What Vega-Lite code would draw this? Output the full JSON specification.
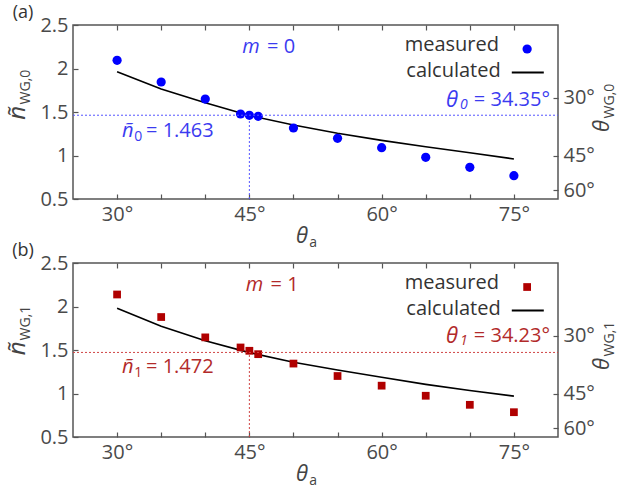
{
"$schema": "https://vega.github.io/schema/vega-lite/v6.json",
"padding": {"left": 5, "top": 3, "right": 0, "bottom": 0},
"spacing": 64,
"bounds": "flush",
"config": {"view": {"stroke": "#555", "strokeWidth": 1.5}, "font": "Open Sans", "axis": {"grid": false}},
"datasets": {
 "meas0": [{"theta":30,"n":2.094},{"theta":35,"n":1.845},{"theta":40,"n":1.649},{"theta":44,"n":1.477},{"theta":45,"n":1.462},{"theta":46,"n":1.450},{"theta":50,"n":1.316},{"theta":55,"n":1.197},{"theta":60,"n":1.090},{"theta":65,"n":0.979},{"theta":70,"n":0.864},{"theta":75,"n":0.768}],
 "calc0": [{"theta":30,"n":1.963},{"theta":35,"n":1.764},{"theta":40,"n":1.607},{"theta":45,"n":1.46},{"theta":50,"n":1.35},{"theta":55,"n":1.255},{"theta":60,"n":1.174},{"theta":65,"n":1.101},{"theta":70,"n":1.032},{"theta":75,"n":0.96}],
 "meas1": [{"theta":30,"n":2.138},{"theta":35,"n":1.879},{"theta":40,"n":1.645},{"theta":44,"n":1.529},{"theta":45,"n":1.491},{"theta":46,"n":1.452},{"theta":50,"n":1.344},{"theta":55,"n":1.201},{"theta":60,"n":1.09},{"theta":65,"n":0.974},{"theta":70,"n":0.87},{"theta":75,"n":0.785}],
 "calc1": [{"theta":30,"n":1.98},{"theta":35,"n":1.772},{"theta":40,"n":1.606},{"theta":45,"n":1.47},{"theta":50,"n":1.36},{"theta":55,"n":1.271},{"theta":60,"n":1.186},{"theta":65,"n":1.105},{"theta":70,"n":1.035},{"theta":75,"n":0.97}],
 "h0": [{"theta":25,"theta2":80,"n":1.463}],
 "v0": [{"theta":45,"n":0.5,"n2":1.463}],
 "h1": [{"theta":25,"theta2":80,"n":1.472}],
 "v1": [{"theta":45,"n":0.5,"n2":1.472}]
},
"vconcat": [
 {
  "width": 485, "height": 174,
  "layer": [
   {"layer": [
    {"data": {"name": "v0"}, "mark": {"type": "rule", "color": "#5555ff", "strokeDash": [2,2], "strokeWidth": 1},
     "encoding": {
      "x": {"field": "theta", "type": "quantitative", "scale": {"domain": [25,80], "nice": false, "zero": false},
            "axis": {"orient": "bottom", "values": [30,35,40,45,50,55,60,65,70,75], "labelExpr": "datum.value % 15 == 0 ? datum.value + '°' : ''", "tickSize": -5, "tickColor": "#555", "tickWidth": 1.2, "domain": false, "title": null, "labelFontSize": 20, "labelColor": "#4a4a4a", "labelFont": "Open Sans", "labelPadding": 10, "labelFlush": false, "labelOverlap": false}},
      "y": {"field": "n", "type": "quantitative", "scale": {"domain": [0.5,2.5], "nice": false, "zero": false},
            "axis": {"orient": "left", "values": [0.5,1,1.5,2,2.5], "format": "~g", "tickSize": -5, "tickColor": "#555", "tickWidth": 1.2, "domain": false, "title": null, "labelFontSize": 20, "labelColor": "#4a4a4a", "labelFont": "Open Sans", "labelPadding": 10, "labelFlush": false, "labelOverlap": false}},
      "y2": {"field": "n2"}}},
    {"data": {"name": "calc0"}, "mark": {"type": "line", "color": "#000", "strokeWidth": 1.6},
     "encoding": {"x": {"field": "theta", "type": "quantitative", "scale": {"domain": [25,80], "nice": false, "zero": false}},
                  "y": {"field": "n", "type": "quantitative", "scale": {"domain": [0.5,2.5], "nice": false, "zero": false}}}},
    {"data": {"name": "meas0"}, "mark": {"type": "point", "shape": "circle", "filled": true, "color": "#0000ff", "size": 85, "opacity": 1},
     "encoding": {"x": {"field": "theta", "type": "quantitative", "scale": {"domain": [25,80], "nice": false, "zero": false}},
                  "y": {"field": "n", "type": "quantitative", "scale": {"domain": [0.5,2.5], "nice": false, "zero": false}}}},
    {"data": {"values": [{}]}, "mark": {"type": "point", "shape": "circle", "filled": true, "color": "#0000ff", "size": 85, "opacity": 1},
     "encoding": {"x": {"datum": 76.5, "type": "quantitative", "scale": {"domain": [25,80], "nice": false, "zero": false}},
                  "y": {"datum": 2.224, "type": "quantitative", "scale": {"domain": [0.5,2.5], "nice": false, "zero": false}}}},
    {"data": {"values": [{}]}, "mark": {"type": "rule", "color": "#000", "strokeWidth": 2},
     "encoding": {"x": {"datum": 74.76, "type": "quantitative", "scale": {"domain": [25,80], "nice": false, "zero": false}}, "x2": {"datum": 78.39},
                  "y": {"datum": 1.954, "type": "quantitative", "scale": {"domain": [0.5,2.5], "nice": false, "zero": false}}}},
    {"data": {"values": [{}]}, "mark": {"type": "text", "text": "measured", "fontSize": 20, "align": "right", "baseline": "middle", "color": "#333"},
     "encoding": {"x": {"datum": 73.31, "type": "quantitative", "scale": {"domain": [25,80], "nice": false, "zero": false}},
                  "y": {"datum": 2.27, "type": "quantitative", "scale": {"domain": [0.5,2.5], "nice": false, "zero": false}}}},
    {"data": {"values": [{}]}, "mark": {"type": "text", "text": "calculated", "fontSize": 20, "align": "right", "baseline": "middle", "color": "#333"},
     "encoding": {"x": {"datum": 73.5, "type": "quantitative", "scale": {"domain": [25,80], "nice": false, "zero": false}},
                  "y": {"datum": 1.977, "type": "quantitative", "scale": {"domain": [0.5,2.5], "nice": false, "zero": false}}}},
    {"data": {"values": [{}]}, "mark": {"type": "text", "text": "m", "fontSize": 20, "fontStyle": "italic", "align": "left", "baseline": "middle", "color": "#3b3bf0"},
     "encoding": {"x": {"datum": 44.2, "type": "quantitative", "scale": {"domain": [25,80], "nice": false, "zero": false}},
                  "y": {"datum": 2.25, "type": "quantitative", "scale": {"domain": [0.5,2.5], "nice": false, "zero": false}}}},
    {"data": {"values": [{}]}, "mark": {"type": "text", "text": "= 0", "fontSize": 20, "align": "left", "baseline": "middle", "color": "#3b3bf0"},
     "encoding": {"x": {"datum": 47.0, "type": "quantitative", "scale": {"domain": [25,80], "nice": false, "zero": false}},
                  "y": {"datum": 2.25, "type": "quantitative", "scale": {"domain": [0.5,2.5], "nice": false, "zero": false}}}},
    {"data": {"values": [{}]}, "mark": {"type": "text", "text": "ñ", "fontSize": 20, "fontStyle": "italic", "align": "left", "baseline": "middle", "color": "#3b3bf0"},
     "encoding": {"x": {"datum": 30.56, "type": "quantitative", "scale": {"domain": [25,80], "nice": false, "zero": false}},
                  "y": {"datum": 1.287, "type": "quantitative", "scale": {"domain": [0.5,2.5], "nice": false, "zero": false}}}},
    {"data": {"values": [{}]}, "mark": {"type": "text", "text": "0", "fontSize": 14, "align": "left", "baseline": "middle", "color": "#3b3bf0"},
     "encoding": {"x": {"datum": 31.95, "type": "quantitative", "scale": {"domain": [25,80], "nice": false, "zero": false}},
                  "y": {"datum": 1.213, "type": "quantitative", "scale": {"domain": [0.5,2.5], "nice": false, "zero": false}}}},
    {"data": {"values": [{}]}, "mark": {"type": "text", "text": "= 1.463", "fontSize": 20, "align": "left", "baseline": "middle", "color": "#3b3bf0"},
     "encoding": {"x": {"datum": 33.28, "type": "quantitative", "scale": {"domain": [25,80], "nice": false, "zero": false}},
                  "y": {"datum": 1.287, "type": "quantitative", "scale": {"domain": [0.5,2.5], "nice": false, "zero": false}}}},
    {"data": {"values": [{}]}, "mark": {"type": "text", "text": "θ", "fontSize": 22, "fontStyle": "italic", "align": "left", "baseline": "middle", "color": "#3b3bf0"},
     "encoding": {"x": {"datum": 67.3, "type": "quantitative", "scale": {"domain": [25,80], "nice": false, "zero": false}},
                  "y": {"datum": 1.638, "type": "quantitative", "scale": {"domain": [0.5,2.5], "nice": false, "zero": false}}}},
    {"data": {"values": [{}]}, "mark": {"type": "text", "text": "0", "fontSize": 14, "fontStyle": "italic", "align": "left", "baseline": "middle", "color": "#3b3bf0"},
     "encoding": {"x": {"datum": 68.9, "type": "quantitative", "scale": {"domain": [25,80], "nice": false, "zero": false}},
                  "y": {"datum": 1.58, "type": "quantitative", "scale": {"domain": [0.5,2.5], "nice": false, "zero": false}}}},
    {"data": {"values": [{}]}, "mark": {"type": "text", "text": "= 34.35°", "fontSize": 20, "align": "right", "baseline": "middle", "color": "#3b3bf0"},
     "encoding": {"x": {"datum": 79.1, "type": "quantitative", "scale": {"domain": [25,80], "nice": false, "zero": false}},
                  "y": {"datum": 1.638, "type": "quantitative", "scale": {"domain": [0.5,2.5], "nice": false, "zero": false}}}},
    {"data": {"values": [{}]}, "mark": {"type": "text", "text": "(a)", "fontSize": 18, "align": "center", "baseline": "middle", "color": "#333"},
     "encoding": {"x": {"datum": 19.33, "type": "quantitative", "scale": {"domain": [25,80], "nice": false, "zero": false}},
                  "y": {"datum": 2.638, "type": "quantitative", "scale": {"domain": [0.5,2.5], "nice": false, "zero": false}}}},
    {"data": {"values": [{}]}, "mark": {"type": "text", "text": "ñ", "fontSize": 24, "fontStyle": "italic", "angle": 270, "align": "center", "baseline": "middle", "color": "#444"},
     "encoding": {"x": {"datum": 18.76, "type": "quantitative", "scale": {"domain": [25,80], "nice": false, "zero": false}},
                  "y": {"datum": 1.49, "type": "quantitative", "scale": {"domain": [0.5,2.5], "nice": false, "zero": false}}}},
    {"data": {"values": [{}]}, "mark": {"type": "text", "text": "WG,0", "fontSize": 14, "angle": 270, "align": "center", "baseline": "middle", "color": "#444"},
     "encoding": {"x": {"datum": 19.67, "type": "quantitative", "scale": {"domain": [25,80], "nice": false, "zero": false}},
                  "y": {"datum": 1.787, "type": "quantitative", "scale": {"domain": [0.5,2.5], "nice": false, "zero": false}}}},
    {"data": {"values": [{}]}, "mark": {"type": "text", "text": "θ", "fontSize": 22, "fontStyle": "italic", "align": "center", "baseline": "middle", "color": "#444"},
     "encoding": {"x": {"datum": 50.97, "type": "quantitative", "scale": {"domain": [25,80], "nice": false, "zero": false}},
                  "y": {"datum": 0.07, "type": "quantitative", "scale": {"domain": [0.5,2.5], "nice": false, "zero": false}}}},
    {"data": {"values": [{}]}, "mark": {"type": "text", "text": "a", "fontSize": 14, "align": "center", "baseline": "middle", "color": "#444"},
     "encoding": {"x": {"datum": 52.22, "type": "quantitative", "scale": {"domain": [25,80], "nice": false, "zero": false}},
                  "y": {"datum": 0.0, "type": "quantitative", "scale": {"domain": [0.5,2.5], "nice": false, "zero": false}}}},
    {"data": {"values": [{}]}, "mark": {"type": "text", "text": "θ", "fontSize": 22, "fontStyle": "italic", "angle": 270, "align": "center", "baseline": "middle", "color": "#444"},
     "encoding": {"x": {"datum": 84.99, "type": "quantitative", "scale": {"domain": [25,80], "nice": false, "zero": false}},
                  "y": {"datum": 1.339, "type": "quantitative", "scale": {"domain": [0.5,2.5], "nice": false, "zero": false}}}},
    {"data": {"values": [{}]}, "mark": {"type": "text", "text": "WG,0", "fontSize": 14, "angle": 270, "align": "center", "baseline": "middle", "color": "#444"},
     "encoding": {"x": {"datum": 85.9, "type": "quantitative", "scale": {"domain": [25,80], "nice": false, "zero": false}},
                  "y": {"datum": 1.626, "type": "quantitative", "scale": {"domain": [0.5,2.5], "nice": false, "zero": false}}}}
   ]},
   {"data": {"name": "h0"}, "mark": {"type": "rule", "color": "#5555ff", "strokeDash": [2,2], "strokeWidth": 1},
    "encoding": {
     "x": {"field": "theta", "type": "quantitative", "scale": {"domain": [25,80], "nice": false, "zero": false},
           "axis": {"orient": "top", "values": [30,35,40,45,50,55,60,65,70,75], "labels": false, "tickSize": -5, "tickColor": "#555", "tickWidth": 1.2, "domain": false, "title": null}},
     "x2": {"field": "theta2"},
     "y": {"field": "n", "type": "quantitative", "scale": {"domain": [0.5,2.5], "nice": false, "zero": false},
           "axis": {"orient": "right", "values": [1.664,1.0,0.6], "labelExpr": "datum.value > 1.5 ? '30°' : (datum.value > 0.8 ? '45°' : '60°')", "tickSize": -5, "tickColor": "#555", "tickWidth": 1.2, "domain": false, "title": null, "labelFontSize": 20, "labelColor": "#4a4a4a", "labelFont": "Open Sans", "labelPadding": 10, "labelFlush": false, "labelOverlap": false}}}}
  ],
  "resolve": {"scale": {"x": "independent", "y": "independent"}}
 },
 {
  "width": 485, "height": 174,
  "layer": [
   {"layer": [
    {"data": {"name": "v1"}, "mark": {"type": "rule", "color": "#d04545", "strokeDash": [2,2], "strokeWidth": 1},
     "encoding": {
      "x": {"field": "theta", "type": "quantitative", "scale": {"domain": [25,80], "nice": false, "zero": false},
            "axis": {"orient": "bottom", "values": [30,35,40,45,50,55,60,65,70,75], "labelExpr": "datum.value % 15 == 0 ? datum.value + '°' : ''", "tickSize": -5, "tickColor": "#555", "tickWidth": 1.2, "domain": false, "title": null, "labelFontSize": 20, "labelColor": "#4a4a4a", "labelFont": "Open Sans", "labelPadding": 10, "labelFlush": false, "labelOverlap": false}},
      "y": {"field": "n", "type": "quantitative", "scale": {"domain": [0.5,2.5], "nice": false, "zero": false},
            "axis": {"orient": "left", "values": [0.5,1,1.5,2,2.5], "format": "~g", "tickSize": -5, "tickColor": "#555", "tickWidth": 1.2, "domain": false, "title": null, "labelFontSize": 20, "labelColor": "#4a4a4a", "labelFont": "Open Sans", "labelPadding": 10, "labelFlush": false, "labelOverlap": false}},
      "y2": {"field": "n2"}}},
    {"data": {"name": "calc1"}, "mark": {"type": "line", "color": "#000", "strokeWidth": 1.6},
     "encoding": {"x": {"field": "theta", "type": "quantitative", "scale": {"domain": [25,80], "nice": false, "zero": false}},
                  "y": {"field": "n", "type": "quantitative", "scale": {"domain": [0.5,2.5], "nice": false, "zero": false}}}},
    {"data": {"name": "meas1"}, "mark": {"type": "square", "filled": true, "color": "#b00000", "size": 60, "opacity": 1},
     "encoding": {"x": {"field": "theta", "type": "quantitative", "scale": {"domain": [25,80], "nice": false, "zero": false}},
                  "y": {"field": "n", "type": "quantitative", "scale": {"domain": [0.5,2.5], "nice": false, "zero": false}}}},
    {"data": {"values": [{}]}, "mark": {"type": "square", "filled": true, "color": "#b00000", "size": 60, "opacity": 1},
     "encoding": {"x": {"datum": 76.5, "type": "quantitative", "scale": {"domain": [25,80], "nice": false, "zero": false}},
                  "y": {"datum": 2.224, "type": "quantitative", "scale": {"domain": [0.5,2.5], "nice": false, "zero": false}}}},
    {"data": {"values": [{}]}, "mark": {"type": "rule", "color": "#000", "strokeWidth": 2},
     "encoding": {"x": {"datum": 74.76, "type": "quantitative", "scale": {"domain": [25,80], "nice": false, "zero": false}}, "x2": {"datum": 78.39},
                  "y": {"datum": 1.954, "type": "quantitative", "scale": {"domain": [0.5,2.5], "nice": false, "zero": false}}}},
    {"data": {"values": [{}]}, "mark": {"type": "text", "text": "measured", "fontSize": 20, "align": "right", "baseline": "middle", "color": "#333"},
     "encoding": {"x": {"datum": 73.31, "type": "quantitative", "scale": {"domain": [25,80], "nice": false, "zero": false}},
                  "y": {"datum": 2.27, "type": "quantitative", "scale": {"domain": [0.5,2.5], "nice": false, "zero": false}}}},
    {"data": {"values": [{}]}, "mark": {"type": "text", "text": "calculated", "fontSize": 20, "align": "right", "baseline": "middle", "color": "#333"},
     "encoding": {"x": {"datum": 73.5, "type": "quantitative", "scale": {"domain": [25,80], "nice": false, "zero": false}},
                  "y": {"datum": 1.977, "type": "quantitative", "scale": {"domain": [0.5,2.5], "nice": false, "zero": false}}}},
    {"data": {"values": [{}]}, "mark": {"type": "text", "text": "m", "fontSize": 20, "fontStyle": "italic", "align": "left", "baseline": "middle", "color": "#b22a2a"},
     "encoding": {"x": {"datum": 44.6, "type": "quantitative", "scale": {"domain": [25,80], "nice": false, "zero": false}},
                  "y": {"datum": 2.25, "type": "quantitative", "scale": {"domain": [0.5,2.5], "nice": false, "zero": false}}}},
    {"data": {"values": [{}]}, "mark": {"type": "text", "text": "= 1", "fontSize": 20, "align": "left", "baseline": "middle", "color": "#b22a2a"},
     "encoding": {"x": {"datum": 47.4, "type": "quantitative", "scale": {"domain": [25,80], "nice": false, "zero": false}},
                  "y": {"datum": 2.25, "type": "quantitative", "scale": {"domain": [0.5,2.5], "nice": false, "zero": false}}}},
    {"data": {"values": [{}]}, "mark": {"type": "text", "text": "ñ", "fontSize": 20, "fontStyle": "italic", "align": "left", "baseline": "middle", "color": "#b22a2a"},
     "encoding": {"x": {"datum": 30.56, "type": "quantitative", "scale": {"domain": [25,80], "nice": false, "zero": false}},
                  "y": {"datum": 1.309, "type": "quantitative", "scale": {"domain": [0.5,2.5], "nice": false, "zero": false}}}},
    {"data": {"values": [{}]}, "mark": {"type": "text", "text": "1", "fontSize": 14, "align": "left", "baseline": "middle", "color": "#b22a2a"},
     "encoding": {"x": {"datum": 31.95, "type": "quantitative", "scale": {"domain": [25,80], "nice": false, "zero": false}},
                  "y": {"datum": 1.235, "type": "quantitative", "scale": {"domain": [0.5,2.5], "nice": false, "zero": false}}}},
    {"data": {"values": [{}]}, "mark": {"type": "text", "text": "= 1.472", "fontSize": 20, "align": "left", "baseline": "middle", "color": "#b22a2a"},
     "encoding": {"x": {"datum": 33.28, "type": "quantitative", "scale": {"domain": [25,80], "nice": false, "zero": false}},
                  "y": {"datum": 1.309, "type": "quantitative", "scale": {"domain": [0.5,2.5], "nice": false, "zero": false}}}},
    {"data": {"values": [{}]}, "mark": {"type": "text", "text": "θ", "fontSize": 22, "fontStyle": "italic", "align": "left", "baseline": "middle", "color": "#b22a2a"},
     "encoding": {"x": {"datum": 67.3, "type": "quantitative", "scale": {"domain": [25,80], "nice": false, "zero": false}},
                  "y": {"datum": 1.656, "type": "quantitative", "scale": {"domain": [0.5,2.5], "nice": false, "zero": false}}}},
    {"data": {"values": [{}]}, "mark": {"type": "text", "text": "1", "fontSize": 14, "fontStyle": "italic", "align": "left", "baseline": "middle", "color": "#b22a2a"},
     "encoding": {"x": {"datum": 68.9, "type": "quantitative", "scale": {"domain": [25,80], "nice": false, "zero": false}},
                  "y": {"datum": 1.598, "type": "quantitative", "scale": {"domain": [0.5,2.5], "nice": false, "zero": false}}}},
    {"data": {"values": [{}]}, "mark": {"type": "text", "text": "= 34.23°", "fontSize": 20, "align": "right", "baseline": "middle", "color": "#b22a2a"},
     "encoding": {"x": {"datum": 79.1, "type": "quantitative", "scale": {"domain": [25,80], "nice": false, "zero": false}},
                  "y": {"datum": 1.656, "type": "quantitative", "scale": {"domain": [0.5,2.5], "nice": false, "zero": false}}}},
    {"data": {"values": [{}]}, "mark": {"type": "text", "text": "(b)", "fontSize": 18, "align": "center", "baseline": "middle", "color": "#333"},
     "encoding": {"x": {"datum": 19.33, "type": "quantitative", "scale": {"domain": [25,80], "nice": false, "zero": false}},
                  "y": {"datum": 2.638, "type": "quantitative", "scale": {"domain": [0.5,2.5], "nice": false, "zero": false}}}},
    {"data": {"values": [{}]}, "mark": {"type": "text", "text": "ñ", "fontSize": 24, "fontStyle": "italic", "angle": 270, "align": "center", "baseline": "middle", "color": "#444"},
     "encoding": {"x": {"datum": 18.76, "type": "quantitative", "scale": {"domain": [25,80], "nice": false, "zero": false}},
                  "y": {"datum": 1.52, "type": "quantitative", "scale": {"domain": [0.5,2.5], "nice": false, "zero": false}}}},
    {"data": {"values": [{}]}, "mark": {"type": "text", "text": "WG,1", "fontSize": 14, "angle": 270, "align": "center", "baseline": "middle", "color": "#444"},
     "encoding": {"x": {"datum": 19.67, "type": "quantitative", "scale": {"domain": [25,80], "nice": false, "zero": false}},
                  "y": {"datum": 1.81, "type": "quantitative", "scale": {"domain": [0.5,2.5], "nice": false, "zero": false}}}},
    {"data": {"values": [{}]}, "mark": {"type": "text", "text": "θ", "fontSize": 22, "fontStyle": "italic", "align": "center", "baseline": "middle", "color": "#444"},
     "encoding": {"x": {"datum": 50.97, "type": "quantitative", "scale": {"domain": [25,80], "nice": false, "zero": false}},
                  "y": {"datum": 0.07, "type": "quantitative", "scale": {"domain": [0.5,2.5], "nice": false, "zero": false}}}},
    {"data": {"values": [{}]}, "mark": {"type": "text", "text": "a", "fontSize": 14, "align": "center", "baseline": "middle", "color": "#444"},
     "encoding": {"x": {"datum": 52.22, "type": "quantitative", "scale": {"domain": [25,80], "nice": false, "zero": false}},
                  "y": {"datum": 0.0, "type": "quantitative", "scale": {"domain": [0.5,2.5], "nice": false, "zero": false}}}},
    {"data": {"values": [{}]}, "mark": {"type": "text", "text": "θ", "fontSize": 22, "fontStyle": "italic", "angle": 270, "align": "center", "baseline": "middle", "color": "#444"},
     "encoding": {"x": {"datum": 84.99, "type": "quantitative", "scale": {"domain": [25,80], "nice": false, "zero": false}},
                  "y": {"datum": 1.339, "type": "quantitative", "scale": {"domain": [0.5,2.5], "nice": false, "zero": false}}}},
    {"data": {"values": [{}]}, "mark": {"type": "text", "text": "WG,1", "fontSize": 14, "angle": 270, "align": "center", "baseline": "middle", "color": "#444"},
     "encoding": {"x": {"datum": 85.9, "type": "quantitative", "scale": {"domain": [25,80], "nice": false, "zero": false}},
                  "y": {"datum": 1.626, "type": "quantitative", "scale": {"domain": [0.5,2.5], "nice": false, "zero": false}}}}
   ]},
   {"data": {"name": "h1"}, "mark": {"type": "rule", "color": "#d04545", "strokeDash": [2,2], "strokeWidth": 1},
    "encoding": {
     "x": {"field": "theta", "type": "quantitative", "scale": {"domain": [25,80], "nice": false, "zero": false},
           "axis": {"orient": "top", "values": [30,35,40,45,50,55,60,65,70,75], "labels": false, "tickSize": -5, "tickColor": "#555", "tickWidth": 1.2, "domain": false, "title": null}},
     "x2": {"field": "theta2"},
     "y": {"field": "n", "type": "quantitative", "scale": {"domain": [0.5,2.5], "nice": false, "zero": false},
           "axis": {"orient": "right", "values": [1.664,1.0,0.6], "labelExpr": "datum.value > 1.5 ? '30°' : (datum.value > 0.8 ? '45°' : '60°')", "tickSize": -5, "tickColor": "#555", "tickWidth": 1.2, "domain": false, "title": null, "labelFontSize": 20, "labelColor": "#4a4a4a", "labelFont": "Open Sans", "labelPadding": 10, "labelFlush": false, "labelOverlap": false}}}}
  ],
  "resolve": {"scale": {"x": "independent", "y": "independent"}}
 }
]
}
